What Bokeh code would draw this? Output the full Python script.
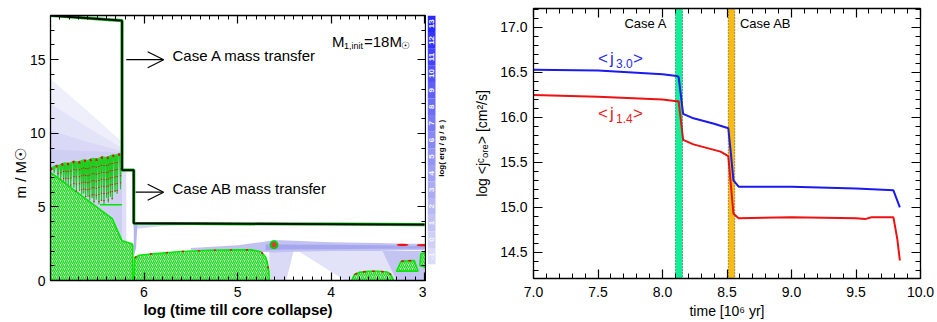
import numpy as np
from bokeh.plotting import figure
from bokeh.models import (Range1d, LinearAxis, FixedTicker, PrintfTickFormatter,
                          Arrow, OpenHead, Span, BoxAnnotation)
from bokeh.layouts import row
from bokeh.embed import file_html
from bokeh.resources import INLINE
from bokeh.core.properties import value

FONT = "Liberation Sans"

# ================= Left panel data (Kippenhahn diagram) =================
# stellar surface (total mass) vs log(time till core collapse)
surf_t = [7.0, 6.235, 6.235, 6.11, 6.11, 4.0, 3.0]
surf_m = [18.0, 17.65, 7.5, 7.5, 3.89, 3.83, 3.80]

# energy-generation shading in the envelope before case A (upper edges)
shade_t = [7.0, 6.6, 6.235]
shade1_m = [13.7, 11.5, 9.4]
shade2_m = [12.0, 10.4, 9.0]
shade3_m = [10.2, 9.4, 8.8]
shade4_m = [8.9, 8.8, 8.7]

# shading of the stripped layer between case A and case AB
step_t = [6.235, 6.19, 6.19, 6.235]
step_m = [7.5, 7.5, 2.6, 2.7]

# convective hydrogen-burning core
core1_t = [7.0, 6.34, 6.235, 6.13, 6.12, 6.12, 7.0]
core1_m = [7.35, 4.2, 2.7, 2.5, 2.4, 0.0, 0.0]

# semiconvective zone: upper envelope and fingers
semi_t = [7.0, 6.95, 6.9, 6.85, 6.8, 6.75, 6.7, 6.65, 6.6, 6.55, 6.5, 6.45, 6.4, 6.35, 6.3, 6.235]
semi_m = [7.55, 7.75, 7.8, 7.95, 7.9, 8.05, 8.0, 8.15, 8.1, 8.25, 8.2, 8.35, 8.3, 8.45, 8.5, 8.6]
spike_t = [6.96, 6.92, 6.89, 6.86, 6.836, 6.81, 6.783, 6.75, 6.723, 6.69, 6.666, 6.645, 6.624, 6.60,
           6.581, 6.555, 6.535, 6.51, 6.482, 6.455, 6.428, 6.40, 6.382, 6.36, 6.34, 6.31, 6.287, 6.251]
spike_bot = [7.3, 7.0, 6.85, 6.7, 6.6, 6.5, 6.35, 6.3, 6.05, 6.1, 5.85, 5.9, 5.65, 5.7, 5.45, 5.6,
             5.3, 5.5, 5.18, 5.4, 5.2, 5.6, 5.3, 5.7, 5.5, 6.0, 5.9, 6.2]
semi_base_t = [6.47, 6.235]
semi_base_m = [5.15, 5.15]

# after case AB
subsurf_t = [6.11, 5.8, 5.4, 5.0]
subsurf_top = [3.89, 3.88, 3.87, 3.86]
subsurf_bot = [3.5, 3.7, 3.78, 3.84]
wedge_t = [6.11, 6.07, 6.085, 6.11]
wedge_m = [3.85, 3.85, 2.2, 1.6]

shell_t = [5.5, 5.0, 4.75, 4.6, 4.4, 4.0, 3.5, 3.2, 3.0]
shell_top = [2.2, 2.4, 2.6, 2.75, 2.7, 2.6, 2.55, 2.5, 2.5]
shell_bot = [2.05, 2.1, 1.95, 1.9, 1.95, 2.0, 2.0, 2.05, 2.05]
shellin_t = [4.7, 4.5, 4.0, 3.5, 3.0]
shellin_top = [2.45, 2.45, 2.42, 2.4, 2.35]
shellin_bot = [2.05, 2.1, 2.12, 2.15, 2.15]

fan_t = [4.66, 4.66, 4.40, 4.48]
fan_m = [0.0, 2.0, 2.0, 0.0]
brl_t = [4.35, 3.85, 3.0, 3.0]
brl_m = [2.0, 0.0, 0.0, 2.0]
brm_t = [3.45, 3.3, 3.0, 3.0]
brm_m = [2.0, 0.0, 0.0, 2.0]

# convective helium-burning core and later convective shells
core2_t = [6.11, 6.10, 6.05, 5.9, 5.6, 5.3, 5.0, 4.85, 4.75, 4.70, 4.68, 4.665, 4.66]
core2_m = [0.0, 1.55, 1.72, 1.82, 1.97, 2.05, 2.08, 2.08, 1.95, 1.6, 1.2, 0.6, 0.0]
conv3_t = [3.78, 3.75, 3.7, 3.6, 3.5, 3.4, 3.36, 3.33]
conv3_m = [0.0, 0.4, 0.55, 0.62, 0.63, 0.58, 0.4, 0.0]
conv4_t = [3.30, 3.25, 3.11, 3.07]
conv4_m = [0.63, 1.31, 1.36, 0.63]
conv5_t = [3.05, 3.04, 2.99, 2.99]
conv5_m = [1.0, 1.8, 1.9, 0.9]
blob_t = [3.235, 3.02]
blob_m = [2.42, 2.40]
ring_t = [4.61]
ring_m = [2.42]

cbar_levels = list(range(-1, 14))
cbar_colors = ["#dcdcf8", "#d0d0f6", "#c4c4f4", "#b8b8f3", "#acacf2", "#a0a0f2",
               "#9494f2", "#8888f2", "#7b7bf3", "#6e6ef4", "#6060f6", "#5252f8",
               "#4444fa", "#3434fc", "#2828ff"]

# ================= Right panel data =================
t_j30 = [7.0, 7.5, 8.0, 8.11, 8.125, 8.16, 8.24, 8.40, 8.51, 8.53, 8.55, 8.59, 9.0, 9.5, 9.79, 9.84]
j30 = [16.53, 16.52, 16.48, 16.46, 16.45, 16.04, 15.99, 15.93, 15.88, 15.60, 15.30, 15.23, 15.23, 15.21, 15.19, 15.00]
t_j14 = [7.0, 7.5, 8.0, 8.11, 8.125, 8.16, 8.24, 8.45, 8.51, 8.55, 8.59, 9.0, 9.5, 9.57, 9.62, 9.79, 9.82, 9.84]
j14 = [16.25, 16.23, 16.20, 16.18, 16.18, 15.75, 15.70, 15.62, 15.57, 14.93, 14.88, 14.89, 14.88, 14.87, 14.89, 14.89, 14.65, 14.41]
caseA_band = (8.10, 8.155)
caseAB_band = (8.51, 8.56)

left_x_major = [6, 5, 4, 3]
left_x_minor = [round(3 + 0.1 * i, 1) for i in range(41)]
left_y_major = [0, 5, 10, 15]
left_y_minor = list(range(0, 19))
right_x_major = [7.0, 7.5, 8.0, 8.5, 9.0, 9.5, 10.0]
right_x_minor = [round(7 + 0.1 * i, 1) for i in range(31)]
right_y_major = [14.5, 15.0, 15.5, 16.0, 16.5, 17.0]
right_y_minor = [round(14.2 + 0.1 * i, 1) for i in range(31)]


def style_axis(ax, major, minor, size):
    ax.major_tick_in = major
    ax.major_tick_out = 0
    ax.minor_tick_in = minor
    ax.minor_tick_out = 0
    ax.axis_line_width = 1.3
    ax.axis_line_color = "black"
    ax.major_tick_line_width = 1.2
    ax.minor_tick_line_width = 1.0
    ax.major_tick_line_color = "black"
    ax.minor_tick_line_color = "black"
    ax.major_label_text_font = FONT
    ax.major_label_text_font_size = size
    ax.major_label_text_color = "black"
    ax.axis_label_text_font = FONT
    ax.axis_label_text_color = "black"


def mirror(p, xt, yt, major, minor):
    top = LinearAxis(ticker=xt, major_label_standoff=0)
    right = LinearAxis(ticker=yt, major_label_standoff=0)
    for ax in (top, right):
        style_axis(ax, major, minor, "1px")
        ax.major_label_text_color = None
    p.add_layout(top, "above")
    p.add_layout(right, "right")


def ptext(p, x, y, txt, size, color="black", style="normal", align="left", dx=0, dy=0, angle=0.0):
    p.text(x=[x], y=[y], text=[txt], text_font=value(FONT), text_font_size=size,
           text_color=color, text_font_style=style, text_align=align,
           text_baseline="middle", x_offset=dx, y_offset=dy, angle=angle)


# ------------------------------------------------ left figure
p1 = figure(width=426, height=322, x_range=Range1d(7.0, 2.99), y_range=Range1d(0, 18.0),
            output_backend="svg", toolbar_location=None, frame_align=False,
            min_border_left=48, min_border_right=1, min_border_top=15, min_border_bottom=42)
p1.grid.visible = False
p1.outline_line_color = "black"
p1.background_fill_color = "white"

xt1 = FixedTicker(ticks=left_x_major, minor_ticks=left_x_minor)
yt1 = FixedTicker(ticks=left_y_major, minor_ticks=left_y_minor)
p1.xaxis.ticker = xt1
p1.yaxis.ticker = yt1
p1.xaxis.formatter = PrintfTickFormatter(format="%d")
p1.yaxis.formatter = PrintfTickFormatter(format="%d")
style_axis(p1.xaxis[0], 8, 4, "14px")
style_axis(p1.yaxis[0], 8, 4, "14px")
p1.xaxis.axis_label = "log (time till core collapse)"
p1.xaxis.axis_label_text_font_style = "bold"
p1.xaxis.axis_label_text_font_size = "15px"
p1.xaxis.major_label_standoff = 6
p1.xaxis.axis_label_standoff = 1
p1.yaxis.axis_label = "m / M\u2609"
p1.yaxis.axis_label_orientation = np.pi / 2
p1.yaxis.axis_label_text_font_style = "normal"
p1.yaxis.axis_label_text_font_size = "15px"
p1.yaxis.major_label_standoff = 5
p1.yaxis.axis_label_standoff = 6
mirror(p1, xt1, yt1, 8, 4)

# envelope shading
for mm, col in ((shade1_m, "#efeffc"), (shade2_m, "#e4e4f9"), (shade3_m, "#d9d9f7"), (shade4_m, "#cfcff4")):
    p1.patch(shade_t + [shade_t[-1], shade_t[0]], mm + [0, 0], fill_color=col, line_color=None)
p1.patch(step_t, step_m, fill_color="#dedef8", line_color=None)

# later shading
p1.patch(subsurf_t + subsurf_t[::-1], subsurf_top + subsurf_bot[::-1], fill_color="#d4d4f6", line_color=None)
p1.patch(wedge_t, wedge_m, fill_color="#b4b4f0", line_color=None)
p1.patch(brl_t, brl_m, fill_color="#e2e2f9", line_color=None)
p1.patch(brm_t, brm_m, fill_color="#c4c4f3", line_color=None)
p1.patch(fan_t, fan_m, fill_color="#dadaf7", line_color=None)
p1.patch(shell_t + shell_t[::-1], shell_top + shell_bot[::-1], fill_color="#c2c2f2", line_color=None)
p1.patch(shellin_t + shellin_t[::-1], shellin_top + shellin_bot[::-1], fill_color="#a6a6ee", line_color=None)

hatch = dict(fill_color="#c4f2c8", hatch_pattern="/", hatch_color="#22d622", hatch_scale=4,
             hatch_weight=1.3, line_color="#00e600", line_width=1.6)
p1.patch(core1_t, core1_m, **hatch)

# semiconvective fingers
tops = np.interp(spike_t, semi_t[::-1], semi_m[::-1])
xs = [[t - 0.012, t + 0.012, t] for t in spike_t]
ys = [[tp, tp, b] for tp, b in zip(tops, spike_bot)]
p1.patches(xs, ys, fill_color="#22d822", line_color="#18c418", line_width=0.8)
p1.segment(x0=spike_t, y0=list(tops), x1=spike_t, y1=spike_bot, line_color="#e01010",
           line_width=1.2, line_dash="1 6")
p1.line(semi_t, semi_m, line_color="#20dd20", line_width=2.5)
p1.line(semi_t, semi_m, line_color="#e01010", line_width=2.5, line_dash="2 4")
p1.line(semi_base_t, semi_base_m, line_color="#00e600", line_width=1.6)

p1.patch(core2_t, core2_m, **hatch)
p1.patch(conv3_t, conv3_m, **hatch)
p1.patch(conv4_t, conv4_m, **hatch)
p1.patch(conv5_t, conv5_m, **hatch)
p1.line(core2_t[1:-1], core2_m[1:-1], line_color="#e01010", line_width=1.6, line_dash="2 14")
p1.line(conv3_t[1:-1], conv3_m[1:-1], line_color="#e01010", line_width=1.6, line_dash="3 6")
p1.line(conv4_t[1:-1], conv4_m[1:-1], line_color="#e01010", line_width=1.6, line_dash="3 4")
p1.ellipse(x=blob_t, y=blob_m, width=0.13, height=0.16, fill_color="#ee1111", line_color=None)
p1.scatter(x=ring_t, y=ring_m, marker="circle", size=7, fill_color="#ee3333", line_color="#00d000", line_width=2)

# surface
p1.line(surf_t, surf_m, line_color="#11bb11", line_width=3.2)
p1.line(surf_t, surf_m, line_color="black", line_width=1.8)

# annotations
p1.add_layout(Arrow(end=OpenHead(size=16, line_width=1.2, line_color="black"), x_start=6.19, y_start=15.0,
                    x_end=5.79, y_end=15.0, line_width=1.2, line_color="black"))
p1.add_layout(Arrow(end=OpenHead(size=16, line_width=1.2, line_color="black"), x_start=6.09, y_start=6.0,
                    x_end=5.79, y_end=6.0, line_width=1.2, line_color="black"))
ptext(p1, 5.695, 15.27, "Case A mass transfer", "15px")
ptext(p1, 5.695, 6.27, "Case AB mass transfer", "15px")
ptext(p1, 3.99, 16.25, "M", "15px")
ptext(p1, 3.99, 16.25, "1,init", "9px", dx=12, dy=5)
ptext(p1, 3.99, 16.25, "=18M", "15px", dx=32)
ptext(p1, 3.99, 16.25, "\u2609", "10px", dx=69, dy=4)

# ------------------------------------------------ colour bar
cb = figure(width=31, height=322, x_range=Range1d(0, 31), y_range=Range1d(-1.5, 13.5),
            output_backend="svg", toolbar_location=None, x_axis_type=None, y_axis_type=None,
            frame_align=False,
            min_border_left=0, min_border_right=0, min_border_top=15, min_border_bottom=58)
cb.outline_line_color = None
cb.grid.visible = False
cb.quad(left=1.3, right=9.0, bottom=[l - 0.5 for l in cbar_levels], top=[l + 0.5 for l in cbar_levels],
        fill_color=cbar_colors, line_color=None)
cb.text(x=[5.2] * len(cbar_levels), y=cbar_levels, text=[str(l) for l in cbar_levels],
        angle=np.pi / 2, text_font=value(FONT), text_font_size="8px", text_font_style="bold",
        text_color="#f4f4ff", text_align="center", text_baseline="middle")
cb.text(x=[14.5], y=[5.5], text=["log( erg / g / s )"], angle=np.pi / 2, text_font=value(FONT),
        text_font_size="8px", text_font_style="bold", text_color="black",
        text_align="center", text_baseline="middle")

# ------------------------------------------------ right figure
p2 = figure(width=480, height=322, x_range=Range1d(7.0, 10.0), y_range=Range1d(14.21, 17.21),
            output_backend="svg", toolbar_location=None, frame_align=False,
            min_border_left=76, min_border_right=17, min_border_top=8, min_border_bottom=44)
p2.grid.visible = False
p2.outline_line_color = "black"
xt2 = FixedTicker(ticks=right_x_major, minor_ticks=right_x_minor)
yt2 = FixedTicker(ticks=right_y_major, minor_ticks=right_y_minor)
p2.xaxis.ticker = xt2
p2.yaxis.ticker = yt2
p2.xaxis.formatter = PrintfTickFormatter(format="%.1f")
p2.yaxis.formatter = PrintfTickFormatter(format="%.1f")
style_axis(p2.xaxis[0], 9, 5, "14px")
style_axis(p2.yaxis[0], 9, 5, "14px")
p2.xaxis.axis_label = "time [10\u2076 yr]"
p2.xaxis.axis_label_text_font_style = "normal"
p2.xaxis.axis_label_text_font_size = "14px"
p2.xaxis.major_label_standoff = 8
p2.xaxis.axis_label_standoff = 3
p2.yaxis.axis_label = "log <j\u1d9c\u2092\u1d63\u2091> [cm\u00b2/s]"
p2.yaxis.axis_label_text_font_style = "normal"
p2.yaxis.axis_label_text_font_size = "14px"
p2.yaxis.major_label_standoff = 6
p2.yaxis.axis_label_standoff = 7
mirror(p2, xt2, yt2, 9, 5)

for (l, r), col in ((caseA_band, "#14ee96"), (caseAB_band, "#f8bc10")):
    p2.add_layout(BoxAnnotation(left=l, right=r, fill_color=col, fill_alpha=1.0, line_color=None,
                                level="underlay"))
    for loc in (l, r):
        p2.add_layout(Span(location=loc, dimension="height", line_color="#444444",
                           line_width=1, line_dash="1 2"))

p2.line(t_j30, j30, line_color="#1a1aee", line_width=2)
p2.line(t_j14, j14, line_color="#ee1111", line_width=2)

ptext(p2, 8.035, 17.04, "Case A", "13px", align="right")
ptext(p2, 8.60, 17.04, "Case AB", "13px")
for yy, sub, col in ((16.65, "3.0", "#2a2aee"), (16.04, "1.4", "#ee1a1a")):
    ptext(p2, 7.50, yy, "<", "17px", color=col)
    ptext(p2, 7.50, yy, "j", "17px", color=col, dx=12)
    ptext(p2, 7.50, yy, sub, "12px", color=col, dx=18, dy=5)
    ptext(p2, 7.50, yy, ">", "17px", color=col, dx=35)

layout = row(p1, cb, p2)
open("out.html", "w").write(file_html(layout, INLINE))
